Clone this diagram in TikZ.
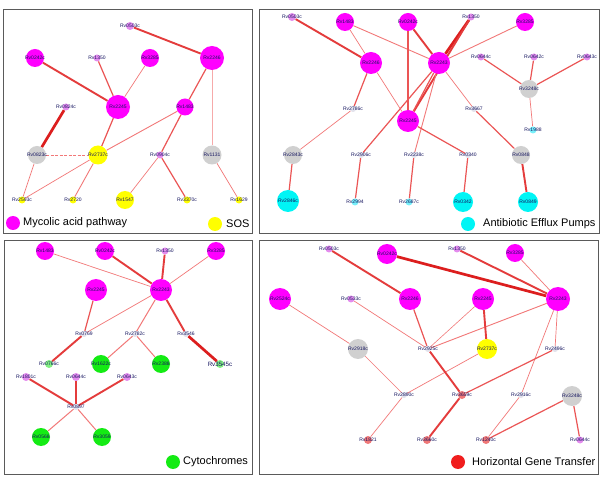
\documentclass[tikz,border=0pt]{standalone}
\usepackage{fontspec}
\setmainfont{Liberation Sans}
\usetikzlibrary{backgrounds}
\definecolor{mag}{RGB}{255,0,255}
\definecolor{lpink}{RGB}{228,140,238}
\definecolor{ngray}{RGB}{208,208,208}
\definecolor{ntiny}{RGB}{226,226,236}
\definecolor{nyel}{RGB}{255,255,0}
\definecolor{ncyan}{RGB}{0,245,245}
\definecolor{lcyan}{RGB}{120,240,250}
\definecolor{ngreen}{RGB}{20,235,20}
\definecolor{lgreen}{RGB}{130,240,130}
\definecolor{nred}{RGB}{240,120,120}
\definecolor{nlegred}{RGB}{240,30,30}
\definecolor{lbltext}{RGB}{20,20,95}
\definecolor{ecA}{RGB}{246,170,170}
\definecolor{ecB}{RGB}{242,120,120}
\definecolor{ecC}{RGB}{235,85,85}
\definecolor{ecD}{RGB}{228,60,60}
\definecolor{ecE}{RGB}{220,30,30}
\definecolor{framec}{RGB}{90,90,90}
\tikzset{
  nd/.style={circle,inner sep=0pt,draw=none},
  lbl/.style={inner sep=0pt,text=lbltext,font=\fontsize{5}{6}\selectfont},
  biglbl/.style={inner sep=0pt,text=lbltext,font=\fontsize{6.2}{7}\selectfont},
  legtext/.style={inner sep=0pt,anchor=west,font=\fontsize{11}{13}\selectfont},
  legdot/.style={circle,inner sep=0pt,draw=none,minimum size=14pt},
  paleE/.style={line width=0.8pt,ecA},
  thinE/.style={line width=0.7pt,ecB},
  medE/.style={line width=1.2pt,ecC},
  thickE/.style={line width=1.9pt,ecD},
  heavyE/.style={line width=2.7pt,ecE},
  panel/.style={draw=framec,line width=0.9pt}
}
\newcommand{\gnode}[6]{\node[nd,fill=#4,minimum size=#5pt,label={[lbl]center:#6}] (#1) at (#2,#3) {};}
\begin{document}
\begin{tikzpicture}[x=1pt,y=-1pt]
\useasboundingbox (0,0) rectangle (600,478);
% panel frames
\node[panel,inner sep=0pt,minimum width=249pt,minimum height=224pt,anchor=north west] (P1) at (3,9) {};
\node[panel,inner sep=0pt,minimum width=340pt,minimum height=224pt,anchor=north west] (P2) at (259,9) {};
\node[panel,inner sep=0pt,minimum width=248pt,minimum height=234pt,anchor=north west] (P3) at (4,240) {};
\node[panel,inner sep=0pt,minimum width=339pt,minimum height=234pt,anchor=north west] (P4) at (259,240) {};

% ---------- Panel 1 ----------
\gnode{a0503}{130}{26}{lpink}{8}{Rv0503c}
\gnode{a0242}{35}{58}{mag}{18}{Rv0242c}
\gnode{a1350}{97}{58}{lpink}{7}{Rv1350}
\gnode{a3285}{150}{58}{mag}{18}{Rv3285}
\gnode{a2246}{212}{58}{mag}{24}{Rv2246}
\gnode{a0824}{66}{107}{lpink}{7}{Rv0824c}
\gnode{a2245}{118}{107}{mag}{24}{Rv2245}
\gnode{a1483}{185}{107}{mag}{17}{Rv1483}
\gnode{a0823}{37}{155}{ngray}{18}{Rv0823c}
\gnode{a2737}{98}{155}{nyel}{19}{Rv2737c}
\gnode{a0904}{160}{155}{lpink}{7}{Rv0904c}
\gnode{a1131}{212}{155}{ngray}{19}{Rv1131}
\gnode{a2593}{22}{200}{nyel}{7}{Rv2593c}
\gnode{a2720}{73}{200}{nyel}{7}{Rv2720}
\gnode{a1547}{125}{200}{nyel}{18}{Rv1547}
\gnode{a3370}{187}{200}{nyel}{7}{Rv3370c}
\gnode{a1629}{239}{200}{nyel}{7}{Rv1629}
\node[legdot,fill=mag] (aleg) at (13,223) {};
\node[legtext] (alegt) at (23,223) {Mycolic acid pathway};
\node[legdot,fill=nyel] (aleg2) at (215,224) {};
\node[legtext] (aleg2t) at (226,224) {SOS};

% ---------- Panel 2 ----------
\gnode{b0503}{292}{17}{lpink}{8}{Rv0503c}
\gnode{b1483}{345}{22}{mag}{18}{Rv1483}
\gnode{b0242}{408}{22}{mag}{18}{Rv0242c}
\gnode{b1350}{471}{17}{lpink}{7}{Rv1350}
\gnode{b3285}{525}{22}{mag}{18}{Rv3285}
\gnode{b2246}{371}{63}{mag}{22}{Rv2246}
\gnode{b2243}{439}{63}{mag}{22}{Rv2243}
\gnode{b0644}{481}{57}{lpink}{7}{Rv0644c}
\gnode{b0642}{534}{57}{lpink}{7}{Rv0642c}
\gnode{b0643}{587}{57}{lpink}{7}{Rv0643c}
\gnode{b3248}{529}{89}{ngray}{18}{Rv3248c}
\gnode{b2786}{353}{109}{ntiny}{6}{Rv2786c}
\gnode{b3667}{474}{109}{ntiny}{6}{Rv3667}
\gnode{b2245}{408}{121}{mag}{22}{Rv2245}
\gnode{b1988}{533}{130}{lcyan}{7}{Rv1988}
\gnode{b2843}{293}{155}{ngray}{18}{Rv2843c}
\gnode{b2906}{361}{155}{ntiny}{6}{Rv2906c}
\gnode{b2238}{414}{155}{ntiny}{6}{Rv2238c}
\gnode{b0340}{468}{155}{ntiny}{6}{Rv0340}
\gnode{b0848}{521}{155}{ngray}{18}{Rv0848}
\gnode{b2846}{288}{201}{ncyan}{22}{Rv2846c}
\gnode{b2994}{355}{202}{lcyan}{7}{Rv2994}
\gnode{b2687}{409}{202}{lcyan}{7}{Rv2687c}
\gnode{b0342}{463}{202}{ncyan}{20}{Rv0342}
\gnode{b0849}{528}{202}{ncyan}{20}{Rv0849}
\node[legdot,fill=ncyan] (bleg) at (468,224) {};
\node[legtext] (blegt) at (483,224) {Antibiotic Efflux Pumps};

% ---------- Panel 3 ----------
\gnode{c1483}{45}{251}{mag}{18}{Rv1483}
\gnode{c0242}{105}{251}{mag}{18}{Rv0242c}
\gnode{c1350}{165}{251}{lpink}{7}{Rv1350}
\gnode{c3285}{216}{251}{mag}{18}{Rv3285}
\gnode{c2245}{96}{290}{mag}{22}{Rv2245}
\gnode{c2243}{161}{290}{mag}{22}{Rv2243}
\gnode{c0769}{84}{334}{ntiny}{6}{Rv0769}
\gnode{c2782}{135}{334}{ntiny}{6}{Rv2782c}
\gnode{c3546}{186}{334}{ntiny}{6}{Rv3546}
\gnode{c0766}{49}{364}{lgreen}{8}{Rv0766c}
\gnode{c1622}{101}{364}{ngreen}{18}{Rv1622c}
\gnode{c2388}{161}{364}{ngreen}{18}{Rv2388}
\node[nd,fill=lgreen,minimum size=8pt,label={[biglbl]center:Rv3545c}] (c3545) at (220,364) {};
\gnode{c1801}{26}{377}{lpink}{8}{Rv1801c}
\gnode{c0644}{76}{377}{lpink}{8}{Rv0644c}
\gnode{c0643}{127}{377}{lpink}{8}{Rv0643c}
\gnode{c0897}{76}{407}{ntiny}{6}{Rv0897}
\gnode{c0568}{41}{437}{ngreen}{18}{Rv0568}
\gnode{c3059}{102}{437}{ngreen}{18}{Rv3059}
\node[legdot,fill=ngreen] (cleg) at (173,462) {};
\node[legtext] (clegt) at (183,462) {Cytochromes};

% ---------- Panel 4 ----------
\gnode{d0503}{329}{249}{lpink}{7}{Rv0503c}
\gnode{d0242}{387}{254}{mag}{20}{Rv0242c}
\gnode{d1350}{457}{249}{lpink}{7}{Rv1350}
\gnode{d3285}{515}{253}{mag}{18}{Rv3285}
\gnode{d2524}{280}{299}{mag}{22}{Rv2524c}
\gnode{d0533}{351}{299}{lpink}{7}{Rv0533c}
\gnode{d2246}{410}{299}{mag}{22}{Rv2246}
\gnode{d2245}{483}{299}{mag}{22}{Rv2245}
\gnode{d2243}{558}{299}{mag}{24}{Rv2243}
\gnode{d2918}{358}{349}{ngray}{20}{Rv2918c}
\gnode{d2925}{428}{349}{ntiny}{6}{Rv2925c}
\gnode{d2737}{487}{349}{nyel}{20}{Rv2737c}
\gnode{d2496}{555}{349}{ntiny}{6}{Rv2496c}
\gnode{d2890}{404}{395}{ntiny}{6}{Rv2890c}
\gnode{d3659}{462}{395}{nred}{8}{Rv3659c}
\gnode{d2916}{521}{395}{ntiny}{6}{Rv2916c}
\gnode{d3248}{572}{396}{ngray}{20}{Rv3248c}
\gnode{d1821}{368}{440}{nred}{8}{Rv1821}
\gnode{d3660}{427}{440}{nred}{8}{Rv3660c}
\gnode{d1240}{486}{440}{nred}{8}{Rv1240c}
\gnode{d0644}{580}{440}{lpink}{7}{Rv0644c}
\node[legdot,fill=nlegred] (dleg) at (458,462) {};
\node[legtext] (dlegt) at (472,462) {Horizontal Gene Transfer};

\begin{pgfonlayer}{background}
\fill[white] (0,0) rectangle (600,478);
% panel 1 edges
\draw[thickE] (a0503)--(a2246);
\draw[thickE] (a0242)--(a2245);
\draw[medE] (a1350)--(a2245);
\draw[thinE] (a3285)--(a2245);
\draw[medE] (a2246)--(a1483);
\draw[paleE] (a2246)--(a1131);
\draw[heavyE] (a0824)--(a0823);
\draw[medE] (a2245)--(a2737);
\draw[thinE,line width=0.9pt] (a1483)--(a2737);
\draw[medE] (a1483)--(a0904);
\draw[thinE,dashed,dash pattern=on 3pt off 1.5pt] (a0823)--(a2737);
\draw[thinE] (a0823)--(a2593);
\draw[thinE] (a2737)--(a2593);
\draw[thinE,line width=0.9pt] (a2737)--(a2720);
\draw[thinE] (a0904)--(a1547);
\draw[medE] (a0904)--(a3370);
\draw[thinE] (a1131)--(a1629);
% panel 2 edges
\draw[thickE] (b0503)--(b2246);
\draw[thinE] (b1483)--(b2246);
\draw[thinE,line width=0.9pt] (b1483)--(b2243);
\draw[medE] (b0242)--(b2245);
\draw[thickE] (b0242)--(b2243);
\draw[heavyE] (b1350)--(b2243);
\draw[thickE] (b1350)--(b2245);
\draw[thinE,line width=0.9pt] (b3285)--(b2243);
\draw[medE] (b2243)--(b2245);
\draw[medE] (b2243)--(b2906);
\draw[thinE,line width=0.9pt] (b2243)--(b2238);
\draw[thinE] (b2243)--(b3667);
\draw[medE] (b2246)--(b2786);
\draw[thinE] (b2246)--(b2245);
\draw[thinE] (b2786)--(b2843);
\draw[medE] (b2245)--(b0340);
\draw[medE] (b3667)--(b0848);
\draw[medE] (b0644)--(b3248);
\draw[medE] (b0642)--(b3248);
\draw[medE] (b0643)--(b3248);
\draw[thinE] (b3248)--(b1988);
\draw[medE] (b2843)--(b2846);
\draw[medE] (b2906)--(b2994);
\draw[medE] (b2238)--(b2687);
\draw[medE] (b0340)--(b0342);
\draw[thickE] (b0848)--(b0849);
% panel 3 edges
\draw[thinE] (c1483)--(c2243);
\draw[thickE] (c0242)--(c2243);
\draw[thickE] (c1350)--(c2243);
\draw[thinE] (c3285)--(c2243);
\draw[thinE] (c2243)--(c0769);
\draw[thinE,line width=1pt] (c2243)--(c2782);
\draw[thickE] (c2243)--(c3546);
\draw[medE] (c2245)--(c0769);
\draw[thickE] (c0769)--(c0766);
\draw[thinE,line width=1pt] (c2782)--(c1622);
\draw[thinE,line width=1pt] (c2782)--(c2388);
\draw[heavyE] (c3546)--(c3545);
\draw[thickE] (c1801)--(c0897);
\draw[thickE] (c0644)--(c0897);
\draw[thickE] (c0643)--(c0897);
\draw[thinE,line width=1pt] (c0897)--(c0568);
\draw[thinE,line width=1pt] (c0897)--(c3059);
% panel 4 edges
\draw[thickE] (d0503)--(d2246);
\draw[heavyE] (d0242)--(d2243);
\draw[thickE] (d1350)--(d2243);
\draw[thinE] (d3285)--(d2243);
\draw[thinE] (d2524)--(d2918);
\draw[thinE] (d0533)--(d2925);
\draw[medE] (d2246)--(d2925);
\draw[thinE,line width=0.6pt] (d2245)--(d2925);
\draw[thinE,line width=0.9pt] (d2243)--(d2925);
\draw[thickE] (d2245)--(d2737);
\draw[thinE] (d2243)--(d2496);
\draw[thinE] (d2243)--(d2916);
\draw[thinE] (d2916)--(d1240);
\draw[thinE] (d2918)--(d2890);
\draw[thinE] (d2737)--(d2890);
\draw[thickE] (d2925)--(d3659);
\draw[medE] (d2496)--(d3659);
\draw[thinE] (d2890)--(d1821);
\draw[thickE] (d3659)--(d3660);
\draw[medE] (d3248)--(d1240);
\draw[medE] (d3248)--(d0644);
\end{pgfonlayer}
\end{tikzpicture}
\end{document}
